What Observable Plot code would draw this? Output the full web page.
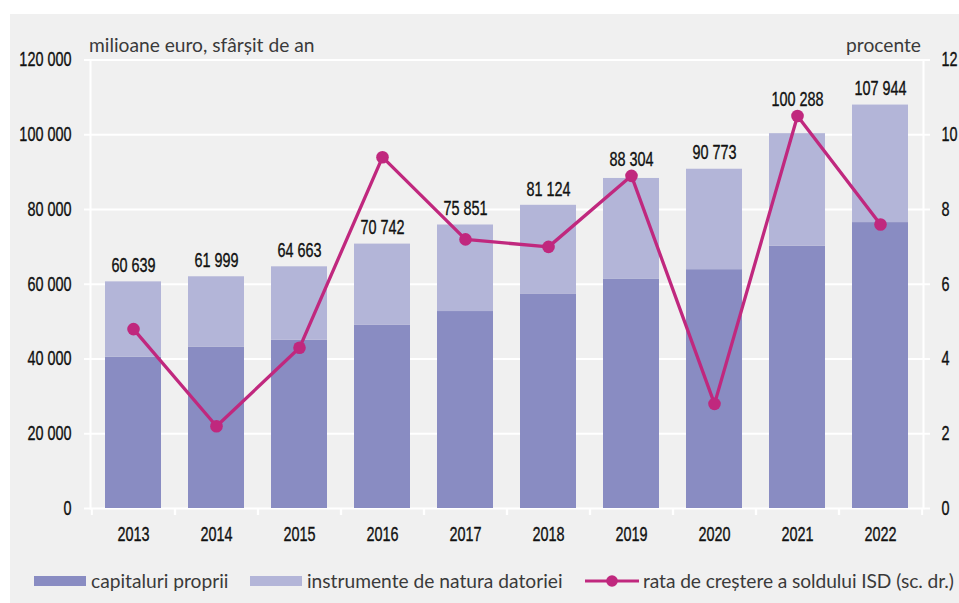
<!DOCTYPE html>
<html>
<head>
<meta charset="utf-8">
<script src="https://cdn.jsdelivr.net/npm/d3@7"></script>
<script src="https://cdn.jsdelivr.net/npm/@observablehq/plot@0.6"></script>
<style>
  html, body { margin: 0; padding: 0; background: #ffffff; }
  #wrap { position: absolute; left: 10px; top: 14px; width: 949px; height: 589px; background: #f0f0f0; overflow: hidden; }
  #chart { position: absolute; left: 0; top: 0; }
  .unit { position: absolute; top: 19px; font-family: "Lato", "Open Sans", sans-serif; font-size: 19.2px; color: #3a3a3a; white-space: nowrap; }
  .leg { position: absolute; top: 555px; font-family: "Lato", "Open Sans", sans-serif; font-size: 19.2px; color: #3a3a3a; white-space: nowrap; line-height: 24px; }
  .sw { position: absolute; width: 52px; height: 10px; top: 562px; }
</style>
</head>
<body>
<div id="wrap">
  <div id="chart"></div>
  <div class="unit" style="left:79px;">milioane euro, sfârșit de an</div>
  <div class="unit" style="right:38px;">procente</div>
  <div class="sw" style="left:24px;background:#898cc2;"></div>
  <div class="leg" style="left:81px;">capitaluri proprii</div>
  <div class="sw" style="left:240px;background:#b3b5d8;"></div>
  <div class="leg" style="left:297px;">instrumente de natura datoriei</div>
  <svg style="position:absolute;left:575px;top:557px;" width="54" height="20">
    <line x1="0" y1="10" x2="54" y2="10" stroke="#c0287e" stroke-width="3.2"/>
    <circle cx="27" cy="10" r="5.8" fill="#c0287e"/>
  </svg>
  <div class="leg" style="left:633px;letter-spacing:-0.08px;">rata de creștere a soldului ISD (sc. dr.)</div>
</div>
<script>
const years = ["2013","2014","2015","2016","2017","2018","2019","2020","2021","2022"];
const totals = [60639, 61999, 64663, 70742, 75851, 81124, 88304, 90773, 100288, 107944];
const equity = [40500, 43200, 45000, 49000, 52700, 57400, 61400, 63900, 70200, 76500];
const growth = [4.8, 2.2, 4.3, 9.4, 7.2, 7.0, 8.9, 2.8, 10.5, 7.6];
const leftTicks = [0, 20000, 40000, 60000, 80000, 100000, 120000];
const rightTicks = [0, 2, 4, 6, 8, 10, 12];

const data = years.map((y, i) => ({year: y, total: totals[i], equity: equity[i], growth: growth[i]}));

const W = 949, H = 545, ML = 80, MR = 36, MT = 45.5, MB = 51;
const step = (W - ML - MR) / years.length;
const RATIO = 10000; // right axis: 1 % = 10 000 on the left scale

const loc = d3.formatLocale({decimal: ",", thousands: " ", grouping: [3], currency: ["", ""]});
const fmt = loc.format(",d");

const numFont = '"Liberation Sans", "Arimo", Arial, sans-serif';
const NUM_SIZE = 19.5;
const C_DARK = "#898cc2", C_LIGHT = "#b3b5d8", C_LINE = "#c0287e";

// a value label is lifted above the growth dot only when that dot would collide with it
const labelY = d => {
  const dotY = d.growth * RATIO;
  return (dotY > d.total && dotY - d.total < 10000) ? dotY : d.total;
};

const plot = Plot.plot({
  width: W, height: H,
  marginLeft: ML, marginRight: MR, marginTop: MT, marginBottom: MB,
  style: {background: "transparent", fontFamily: numFont, fontSize: NUM_SIZE + "px", color: "#111"},
  x: {type: "band", domain: years, paddingInner: 0.33, paddingOuter: 0.165},
  y: {domain: [0, 120000]},
  marks: [
    Plot.gridY(leftTicks, {stroke: "#ffffff", strokeOpacity: 1, strokeWidth: 2}),
    Plot.frame({anchor: "left", stroke: "#ffffff", strokeWidth: 2}),
    Plot.frame({anchor: "right", stroke: "#ffffff", strokeWidth: 2}),
    Plot.rectY(data, {x: "year", y1: 0, y2: "equity", fill: C_DARK}),
    Plot.rectY(data, {x: "year", y1: "equity", y2: "total", fill: C_LIGHT}),
    Plot.axisY(leftTicks, {anchor: "left", tickSize: 6, tickPadding: 13, stroke: "#ffffff", strokeWidth: 2,
      tickFormat: fmt, fontSize: NUM_SIZE, fill: "#111", label: null}),
    Plot.axisY(rightTicks.map(v => v * RATIO), {anchor: "right", tickSize: 6, tickPadding: 12, stroke: "#ffffff", strokeWidth: 2,
      tickFormat: d => String(d / RATIO), fontSize: NUM_SIZE, fill: "#111", label: null}),
    Plot.axisX({tickSize: 0, tickPadding: 19, fontSize: NUM_SIZE, fill: "#111", label: null}),
    Plot.axisX({tickSize: 7, tickFormat: () => "", dx: -step / 2, stroke: "#ffffff", strokeWidth: 2, label: null}),
    Plot.axisX({tickSize: 7, tickFormat: () => "", dx: step / 2, stroke: "#ffffff", strokeWidth: 2, label: null}),
    Plot.line(data, {x: "year", y: d => d.growth * RATIO, stroke: C_LINE, strokeWidth: 3.3}),
    Plot.dot(data, {x: "year", y: d => d.growth * RATIO, r: 6.3, fill: C_LINE}),
    Plot.text(data, {x: "year", y: labelY, text: d => fmt(d.total), dy: -16, fontSize: NUM_SIZE, fill: "#111"})
  ]
});
document.getElementById("chart").appendChild(plot);

// emulate the condensed numeral face: squeeze each text horizontally around its own anchor
const SQUEEZE = 0.74;
plot.querySelectorAll("text").forEach(t => {
  const xa = parseFloat(t.getAttribute("x"));
  const x = isFinite(xa) ? xa : 0;
  const tr = t.getAttribute("transform") || "";
  t.setAttribute("transform", `${tr} translate(${x},0) scale(${SQUEEZE},1) translate(${-x},0)`.trim());
  t.setAttribute("stroke", "#111");
  t.setAttribute("stroke-width", "0.35");
});
</script>
</body>
</html>
